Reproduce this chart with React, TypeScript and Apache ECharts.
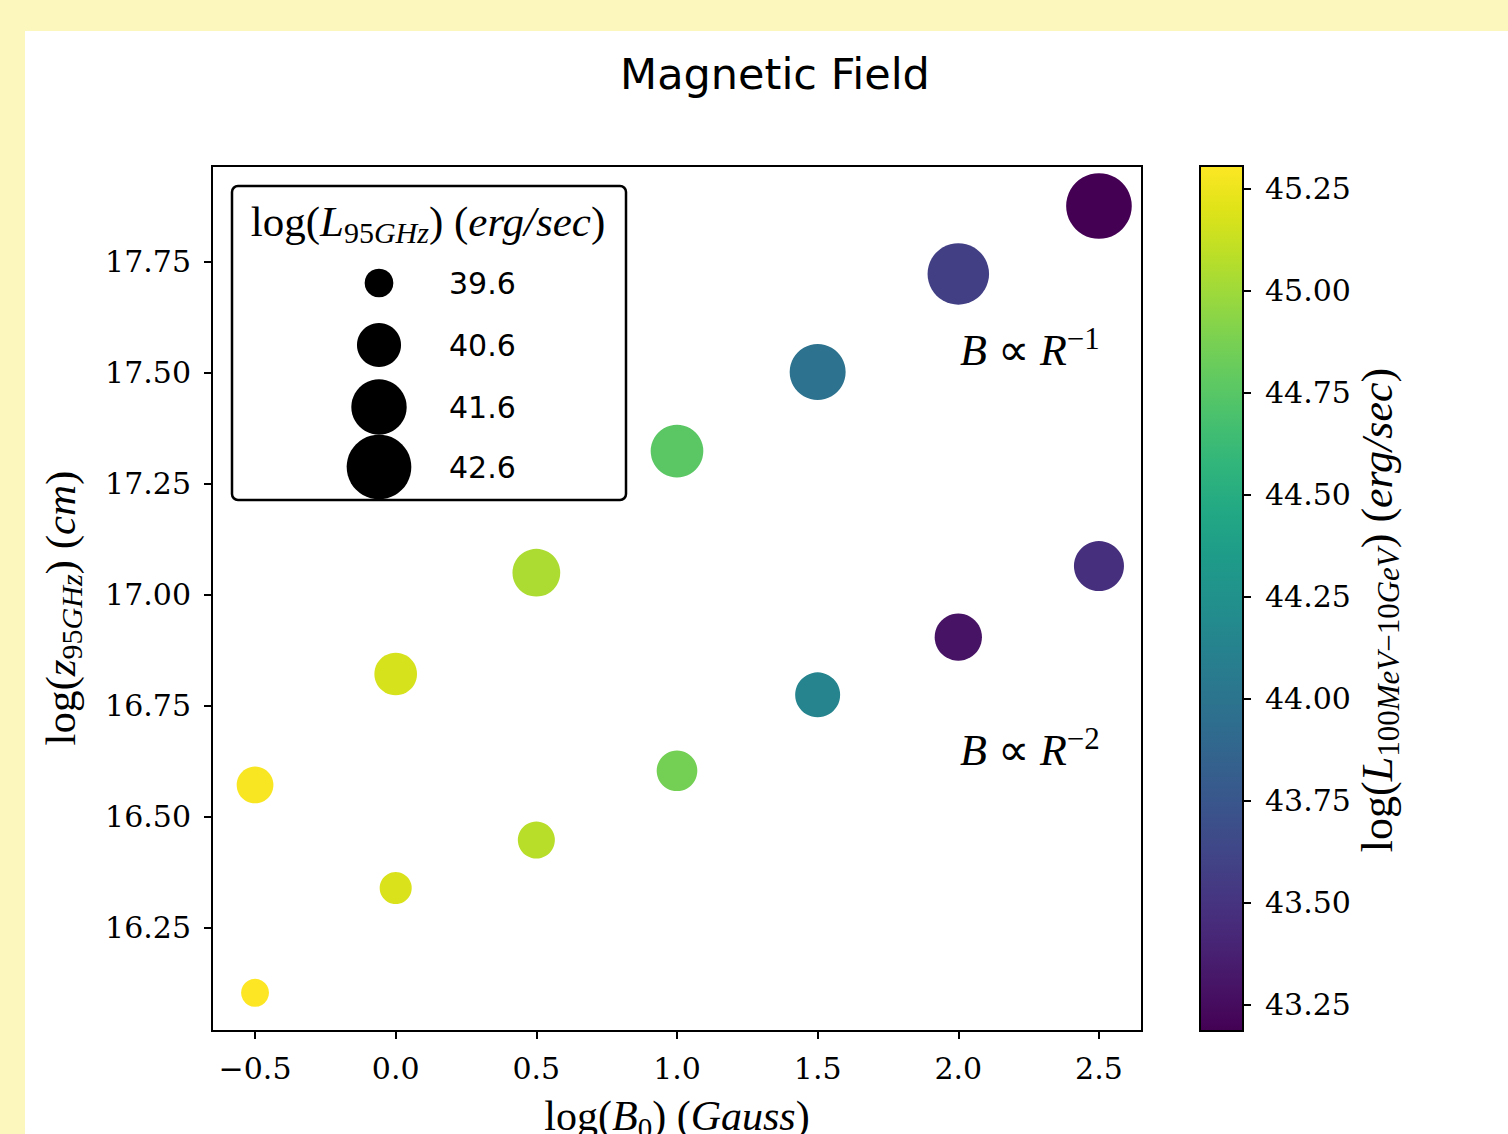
import React, { useEffect, useRef } from 'react';
import * as echarts from 'echarts';

// ---- data ----
const xValues = [-0.5, 0.0, 0.5, 1.0, 1.5, 2.0, 2.5];
// B ∝ R^-1 branch
const upperZ = [16.572, 16.822, 17.05, 17.324, 17.502, 17.723, 17.876];
const upperL95 = [40.07, 40.49, 40.9, 41.34, 41.66, 42.24, 42.71];
const upperLgamma = [45.29, 45.17, 45.04, 44.76, 43.98, 43.58, 43.186];
// B ∝ R^-2 branch
const lowerZ = [16.104, 16.34, 16.448, 16.604, 16.775, 16.905, 17.065];
const lowerL95 = [39.56, 39.78, 40.09, 40.34, 40.67, 40.86, 41.1];
const lowerLgamma = [45.306, 45.18, 45.08, 44.86, 44.14, 43.29, 43.48];

const legendSizes = [39.6, 40.6, 41.6, 42.6];
const xTicks = [-0.5, 0.0, 0.5, 1.0, 1.5, 2.0, 2.5];
const yTicks = [16.25, 16.5, 16.75, 17.0, 17.25, 17.5, 17.75];
const cbTicks = [43.25, 43.5, 43.75, 44.0, 44.25, 44.5, 44.75, 45.0, 45.25];
const xRange = [-0.653, 2.653];
const yRange = [16.018, 17.966];

const VIRIDIS = [
  '#440154', '#471365', '#482475', '#463480', '#414487', '#3b528b', '#355f8d',
  '#2f6c8e', '#2a788e', '#25848e', '#21918c', '#1e9c89', '#22a884', '#2fb47c',
  '#44bf70', '#5ec962', '#7ad151', '#9bd93c', '#bddf26', '#dfe318', '#fde725',
];

const allG = upperLgamma.concat(lowerLgamma);
const cbMin = Math.min(...allG);
const cbMax = Math.max(...allG);

// marker diameter (px) from log L95
const sizeOf = (L: number) => Math.sqrt(Math.max(50, 824 + 1120 * (L - 39.6)));

const SERIF = 'Liberation Serif';
const TICKFONT = 'DejaVu Serif';
const SANS = 'DejaVu Sans';

const richBase = (fs: number) => {
  const sub = Math.round(fs * 0.7);
  return {
    r: { fontFamily: SERIF, fontSize: fs, lineHeight: fs + 10, fill: '#000' },
    i: { fontFamily: SERIF, fontStyle: 'italic', fontSize: fs, lineHeight: fs + 10, fill: '#000' },
    s: { fontFamily: SERIF, fontSize: sub, lineHeight: sub, verticalAlign: 'bottom', fill: '#000' },
    si: { fontFamily: SERIF, fontStyle: 'italic', fontSize: sub, lineHeight: sub, verticalAlign: 'bottom', fill: '#000' },
    p: { fontFamily: SERIF, fontSize: sub, lineHeight: sub, verticalAlign: 'top', fill: '#000' },
  };
};

const axisLineStyle = { show: true, onZero: false, lineStyle: { color: '#000', width: 2 } };

export default function App() {
  const ref = useRef<HTMLDivElement>(null);
  useEffect(() => {
    if (!ref.current) return;
    const chart = echarts.init(ref.current, null, { renderer: 'svg' });

    const upperData = xValues.map((x, i) => [x, upperZ[i], upperL95[i], upperLgamma[i]]);
    const lowerData = xValues.map((x, i) => [x, lowerZ[i], lowerL95[i], lowerLgamma[i]]);

    const legendRowsY = [283, 345, 407, 467];
    const legendGraphics: any[] = [];
    legendSizes.forEach((v, k) => {
      legendGraphics.push({
        type: 'circle', z: 101,
        shape: { cx: 379, cy: legendRowsY[k], r: sizeOf(v) / 2 },
        style: { fill: '#000' },
      });
      legendGraphics.push({
        type: 'text', z: 101, x: 449, y: legendRowsY[k],
        style: { text: v.toFixed(1), fontFamily: SANS, fontSize: 30, fill: '#000', align: 'left', verticalAlign: 'middle' },
      });
    });

    const gradStops = VIRIDIS.map((c, k) => ({ offset: k / (VIRIDIS.length - 1), color: c }));

    const option: any = {
      animation: false,
      backgroundColor: 'transparent',
      grid: [
        { left: 212, top: 166, width: 930, height: 865, show: true, borderColor: '#000', borderWidth: 2, backgroundColor: 'transparent' },
        { left: 1200, top: 166, width: 43, height: 865, show: false },
      ],
      xAxis: [
        {
          type: 'value', gridIndex: 0, min: xRange[0], max: xRange[1],
          axisLine: axisLineStyle,
          axisTick: { show: true, customValues: xTicks, length: 8, lineStyle: { color: '#000', width: 2 } },
          axisLabel: {
            customValues: xTicks, margin: 22, color: '#000', fontFamily: TICKFONT, fontSize: 30,
            formatter: (v: number) => (v < 0 ? '\u2212' : '') + Math.abs(v).toFixed(1),
          },
          splitLine: { show: false },
        },
        { type: 'value', gridIndex: 1, min: 0, max: 1, show: false },
      ],
      yAxis: [
        {
          type: 'value', gridIndex: 0, min: yRange[0], max: yRange[1],
          axisLine: axisLineStyle,
          axisTick: { show: true, customValues: yTicks, length: 8, lineStyle: { color: '#000', width: 2 } },
          axisLabel: {
            customValues: yTicks, margin: 21, color: '#000', fontFamily: TICKFONT, fontSize: 30,
            formatter: (v: number) => v.toFixed(2),
          },
          splitLine: { show: false },
        },
        {
          type: 'value', gridIndex: 1, position: 'right', min: cbMin, max: cbMax,
          axisLine: { show: false, onZero: false },
          axisTick: { show: true, customValues: cbTicks, length: 8, lineStyle: { color: '#000', width: 2 } },
          axisLabel: {
            customValues: cbTicks, margin: 22, color: '#000', fontFamily: TICKFONT, fontSize: 30,
            formatter: (v: number) => v.toFixed(2),
          },
          splitLine: { show: false },
        },
      ],
      visualMap: {
        type: 'continuous', show: false, dimension: 3, min: cbMin, max: cbMax,
        inRange: { color: VIRIDIS }, seriesIndex: [0, 1],
      },
      series: [
        {
          name: 'B ∝ R^-1', type: 'scatter', xAxisIndex: 0, yAxisIndex: 0, data: upperData,
          symbol: 'circle', symbolSize: (v: number[]) => sizeOf(v[2]), itemStyle: { opacity: 1 },
        },
        {
          name: 'B ∝ R^-2', type: 'scatter', xAxisIndex: 0, yAxisIndex: 0, data: lowerData,
          symbol: 'circle', symbolSize: (v: number[]) => sizeOf(v[2]), itemStyle: { opacity: 1 },
        },
      ],
      graphic: [
        {
          type: 'text', x: 775, y: 74,
          style: { text: 'Magnetic Field', fontFamily: SANS, fontSize: 43, fill: '#000', align: 'center', verticalAlign: 'middle' },
        },
        // colorbar
        {
          type: 'rect', z: 10,
          shape: { x: 1200, y: 166, width: 43, height: 865 },
          style: {
            fill: new echarts.graphic.LinearGradient(0, 1, 0, 0, gradStops),
            stroke: '#000', lineWidth: 2,
          },
        },
        // legend box
        {
          type: 'rect', z: 100,
          shape: { x: 232, y: 186, width: 394, height: 314, r: 6 },
          style: { fill: '#fff', stroke: '#000', lineWidth: 2.5 },
        },
        {
          type: 'text', z: 101, x: 428, y: 221,
          style: {
            text: '{r|log(}{i|L}{s|95}{si|GHz}{r|) (}{i|erg/sec}{r|)}',
            rich: richBase(43), align: 'center', verticalAlign: 'middle',
          },
        },
        ...legendGraphics,
        // annotations
        {
          type: 'text', x: 960, y: 350,
          style: { text: '{i|B}{r| ∝ }{i|R}{p|−1}', rich: richBase(44), align: 'left', verticalAlign: 'middle' },
        },
        {
          type: 'text', x: 960, y: 750,
          style: { text: '{i|B}{r| ∝ }{i|R}{p|−2}', rich: richBase(44), align: 'left', verticalAlign: 'middle' },
        },
        // axis titles
        {
          type: 'text', x: 677, y: 1116,
          style: { text: '{r|log(}{i|B}{s|0}{r|) (}{i|Gauss}{r|)}', rich: richBase(42), align: 'center', verticalAlign: 'middle' },
        },
        {
          type: 'text', x: 60, y: 608, rotation: Math.PI / 2,
          style: { text: '{r|log(}{i|z}{s|95}{si|GHz}{r|) (}{i|cm}{r|)}', rich: richBase(43), align: 'center', verticalAlign: 'middle' },
        },
        {
          type: 'text', x: 1377, y: 610, rotation: Math.PI / 2,
          style: {
            text: '{r|log(}{i|L}{s|100}{si|MeV}{s|−10}{si|GeV}{r|) (}{i|erg/sec}{r|)}',
            rich: richBase(44), align: 'center', verticalAlign: 'middle',
          },
        },
      ],
    };
    chart.setOption(option);
    return () => chart.dispose();
  }, []);

  return (
    <div style={{ position: 'fixed', left: 0, top: 0, width: 1508, height: 1134, background: '#fbf7bd', overflow: 'hidden' }}>
      <div style={{ position: 'absolute', left: 25, top: 31, width: 1483, height: 1103, background: '#ffffff' }} />
      <div ref={ref} style={{ position: 'absolute', left: 0, top: 0, width: 1508, height: 1134 }} />
    </div>
  );
}
